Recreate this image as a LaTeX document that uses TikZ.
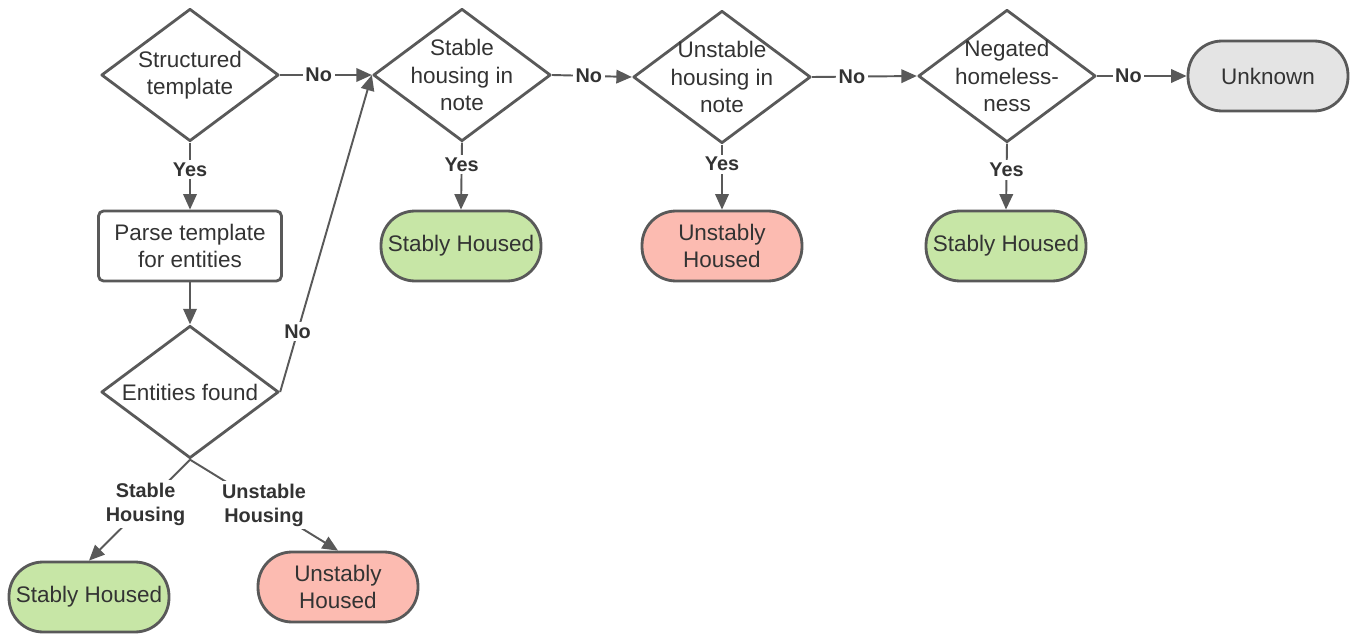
\documentclass[tikz,border=0pt]{standalone}
\usepackage{fontspec}
\setmainfont{Liberation Sans}
\usetikzlibrary{shapes.geometric,arrows.meta}

\definecolor{edgegray}{RGB}{89,89,89}
\definecolor{txtgray}{RGB}{51,51,51}
\definecolor{stablegreen}{RGB}{199,230,166}
\definecolor{unstablered}{RGB}{252,187,177}
\definecolor{unknowngray}{RGB}{228,228,228}

\begin{document}
\begin{tikzpicture}[x=0.02cm, y=-0.02cm,
  >={Triangle[length=0.31cm,width=0.27cm]},
  nodetext/.style={align=center, text=txtgray, font=\fontsize{12.8}{15.5}\selectfont},
  decision/.style={diamond, draw=edgegray, line width=1.6pt, line join=round,
    minimum width=3.55cm, minimum height=2.65cm, inner sep=0pt},
  process/.style={rectangle, rounded corners=0.1cm, draw=edgegray, line width=1.6pt,
    minimum width=3.66cm, minimum height=1.4cm, nodetext},
  outcome/.style={rectangle, rounded corners=0.68cm, draw=edgegray, line width=1.6pt,
    minimum width=3.2cm, minimum height=1.4cm, nodetext},
  stable/.style={outcome, fill=stablegreen},
  unstable/.style={outcome, fill=unstablered},
  unknown/.style={outcome, fill=unknowngray},
  flow/.style={->, draw=edgegray, line width=1.1pt},
  choice/.style={fill=white, inner sep=1.5pt, text=txtgray, align=center,
    font=\bfseries\fontsize{11.3}{13.5}\selectfont}]

  \useasboundingbox (0,0) rectangle (1357,635);

  % Decisions along the top row
  \node[decision, label={[nodetext]center:Structured\\template}] (tmpl) at (190,75) {};
  \node[decision, label={[nodetext]center:Stable\\housing in\\note}] (stablenote) at (462,75) {};
  \node[decision, label={[nodetext]center:Unstable\\housing in\\note}] (unstablenote) at (722,77) {};
  \node[decision, label={[nodetext]center:Negated\\homeless-\\ness}] (negated) at (1007,76) {};
  \node[unknown] (unk) at (1268,76) {Unknown};

  % Template branch
  \node[process] (parse) at (190,246) {Parse template\\for entities};
  \node[decision, label={[nodetext]center:Entities found}] (found) at (190,392) {};

  % Outcomes
  \node[stable] (stableA) at (461,246) {Stably Housed};
  \node[unstable] (unstableA) at (722,246) {Unstably\\Housed};
  \node[stable] (stableB) at (1006,246) {Stably Housed};
  \node[stable] (stableC) at (89,597) {Stably Housed};
  \node[unstable] (unstableC) at (338,587) {Unstably\\Housed};

  % No chain
  \draw[flow] (tmpl.east) -- node[choice, pos=0.42] {No} (stablenote.west);
  \draw[flow] (stablenote.east) -- node[choice, pos=0.46] {No} (unstablenote.west);
  \draw[flow] (unstablenote.east) -- node[choice, pos=0.38] {No} (negated.west);
  \draw[flow] (negated.east) -- node[choice, pos=0.35] {No} (unk.west);

  % Yes branches
  \draw[flow] (tmpl.south) -- node[choice, pos=0.4] {Yes} (parse.north);
  \draw[flow] (stablenote.south) -- node[choice, pos=0.33] {Yes} (stableA.north);
  \draw[flow] (unstablenote.south) -- node[choice, pos=0.3] {Yes} (unstableA.north);
  \draw[flow] (negated.south) -- node[choice, pos=0.4] {Yes} (stableB.north);

  % Entities
  \draw[flow] (parse.south) -- (found.north);
  \draw[flow] (found.east) -- node[choice, pos=0.19] {No} (stablenote.west);
  \draw[flow] (found.south) -- node[choice, pos=0.44] {Stable\\Housing} (stableC.north);
  \draw[flow] (found.south) -- node[choice, pos=0.5] {Unstable\\Housing} (unstableC.north);

\end{tikzpicture}
\end{document}
